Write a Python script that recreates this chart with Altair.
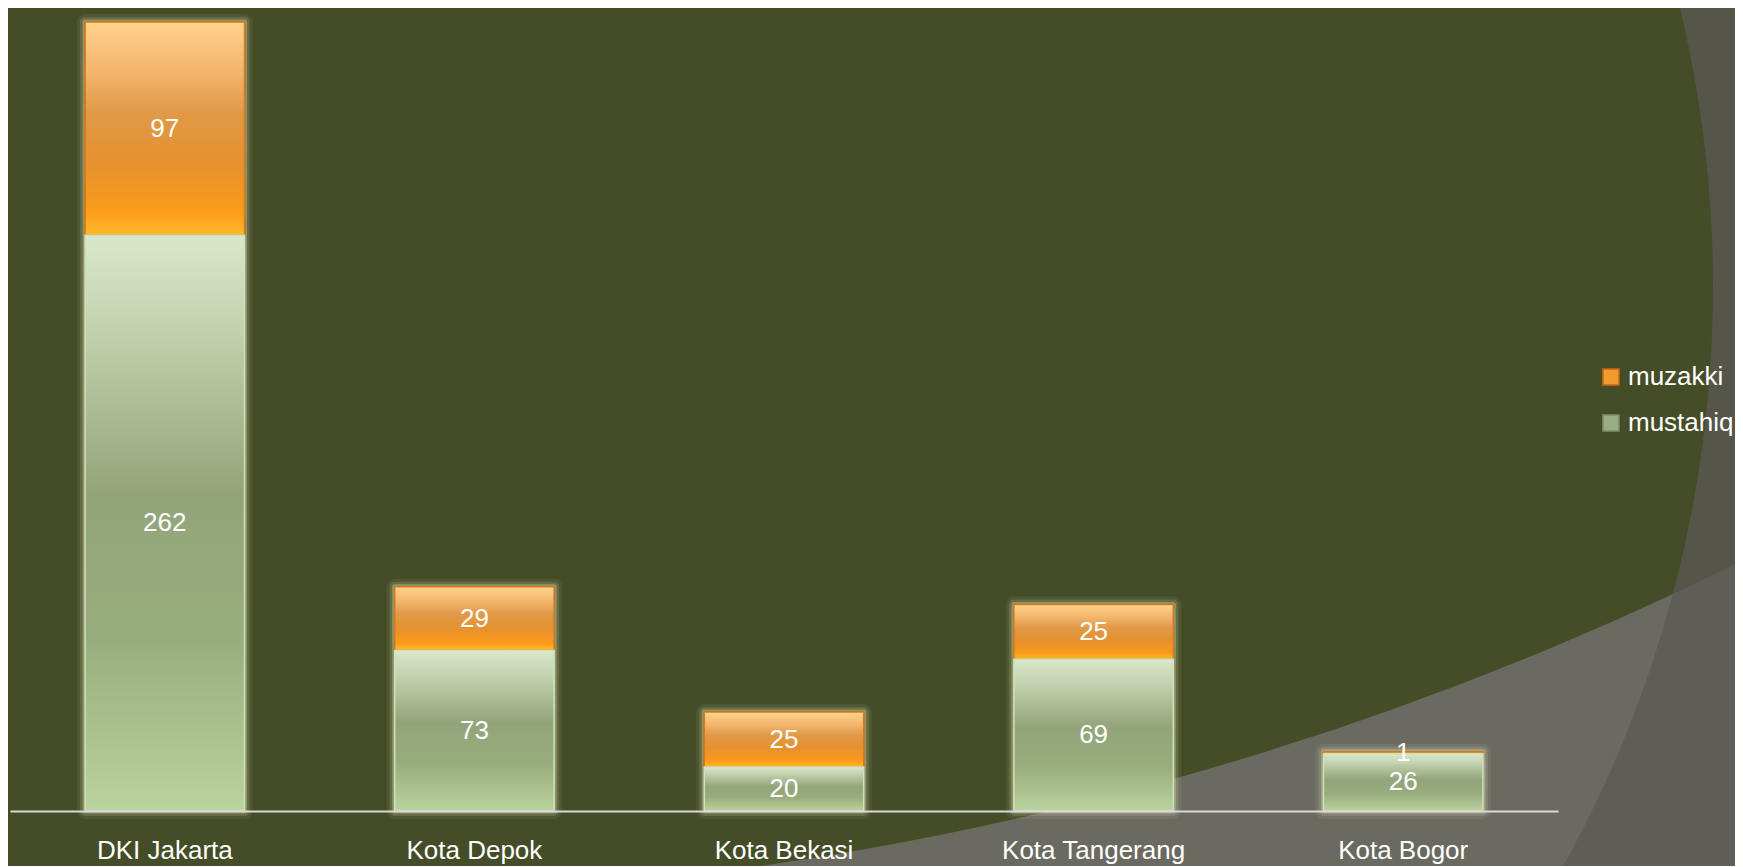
import altair as alt
import pandas as pd

regions = ["DKI Jakarta", "Kota Depok", "Kota Bekasi", "Kota Tangerang", "Kota Bogor"]
mustahiq = [262, 73, 20, 69, 26]
muzakki = [97, 29, 25, 25, 1]
series_order = ["muzakki", "mustahiq"]

rows = []
for r, m, z in zip(regions, mustahiq, muzakki):
    rows.append({"region": r, "series": "mustahiq", "value": m, "y0": 0, "y1": m})
    rows.append({"region": r, "series": "muzakki", "value": z, "y0": m, "y1": m + z})
df = pd.DataFrame(rows)
tot = pd.DataFrame({"region": regions, "t0": [0] * 5,
                    "total": [a + b for a, b in zip(mustahiq, muzakki)]})

FONT = "Liberation Sans"
x_enc = alt.X("region:N", sort=regions,
              scale=alt.Scale(paddingInner=0.485, paddingOuter=0.2425),
              axis=alt.Axis(title=None, labelAngle=0, labelColor="white", labelFontSize=26,
                            labelFont=FONT, labelPadding=47, labelBaseline="alphabetic",
                            labelLimit=400, ticks=False, domainColor="#D9D9D9", domainWidth=2,
                            grid=False, zindex=1))
y_scale = alt.Scale(domain=[0, 365.4], nice=False, zero=True)

one = pd.DataFrame({"k": [1]})
outside_b = alt.Chart(one).mark_arc(
    radius=5800, radius2=3252, theta=0, theta2=6.2832, fill="#6A6A60"
).encode(x=alt.value(288), y=alt.value(-2361))
outside_a = alt.Chart(one).mark_arc(
    radius=3400, radius2=1194, theta=0, theta2=6.2832, fill="#5B5956", fillOpacity=0.75
).encode(x=alt.value(509), y=alt.value(279))

def glow(width, opacity):
    return alt.Chart(tot).mark_bar(fillOpacity=0, stroke="#F2EDC6", strokeWidth=width,
                                   strokeOpacity=opacity, strokeJoin="round").encode(
        x=x_enc, y=alt.Y("t0:Q", scale=y_scale, axis=None), y2="total:Q")

legend_layer = alt.Chart(df).mark_bar(strokeWidth=1.5).encode(
    x=x_enc,
    y=alt.Y("y0:Q", scale=y_scale, axis=None), y2="y1:Q",
    color=alt.Color("series:N", scale=alt.Scale(domain=series_order, range=["#F39A2E", "#9AAE86"]),
                    legend=alt.Legend(orient="none", legendX=1588, legendY=356, title=None,
                                      labelColor="white", labelFontSize=26, labelFont=FONT,
                                      symbolType="square", symbolSize=256, symbolStrokeWidth=1.5,
                                      rowPadding=20, padding=0, labelOffset=4)),
    stroke=alt.Stroke("series:N", scale=alt.Scale(domain=series_order, range=["#C86A0C", "#7D8F6B"]),
                      legend=None),
)

orange_grad = alt.Gradient(gradient="linear", x1=0, x2=0, y1=0, y2=1, stops=[
    alt.GradientStop(offset=0, color="#FFD38D"),
    alt.GradientStop(offset=0.25, color="#F2B26A"),
    alt.GradientStop(offset=0.42, color="#E09A48"),
    alt.GradientStop(offset=0.65, color="#E5912F"),
    alt.GradientStop(offset=0.88, color="#FB9A1A"),
    alt.GradientStop(offset=1, color="#FFBA2A"),
])
green_grad = alt.Gradient(gradient="linear", x1=0, x2=0, y1=0, y2=1, stops=[
    alt.GradientStop(offset=0, color="#DAE7CA"),
    alt.GradientStop(offset=0.12, color="#C9D8B6"),
    alt.GradientStop(offset=0.45, color="#93A47A"),
    alt.GradientStop(offset=0.7, color="#98AD7D"),
    alt.GradientStop(offset=0.9, color="#AFC692"),
    alt.GradientStop(offset=1, color="#BAD49E"),
])

grad_mz = alt.Chart(df).transform_filter(alt.datum.series == "muzakki").mark_bar(
    fill=orange_grad, stroke="#D27B1C", strokeWidth=1.5).encode(
    x=x_enc, y=alt.Y("y0:Q", scale=y_scale, axis=None), y2="y1:Q")
grad_mh = alt.Chart(df).transform_filter(alt.datum.series == "mustahiq").mark_bar(
    fill=green_grad, stroke="#CFE3B8", strokeWidth=1.5).encode(
    x=x_enc, y=alt.Y("y0:Q", scale=y_scale, axis=None), y2="y1:Q")

text = alt.Chart(df).transform_calculate(mid="(datum.y0 + datum.y1) / 2").mark_text(
    color="white", fontSize=26, font=FONT, baseline="middle").encode(
    x=x_enc, y=alt.Y("mid:Q", scale=y_scale, axis=None), text="value:Q")

chart = alt.layer(outside_b, outside_a, glow(16, 0.07), glow(10, 0.14), glow(5, 0.3),
                  legend_layer, grad_mz, grad_mh, text).properties(
    width=1548, height=803,
    autosize=alt.AutoSizeParams(type="none"),
    padding={"left": 2, "top": 0, "right": 177, "bottom": 55},
    background="#444D27",
).configure(font=FONT).configure_view(strokeWidth=0)

chart.save("out.html", embed_options={"renderer": "svg", "actions": False})
